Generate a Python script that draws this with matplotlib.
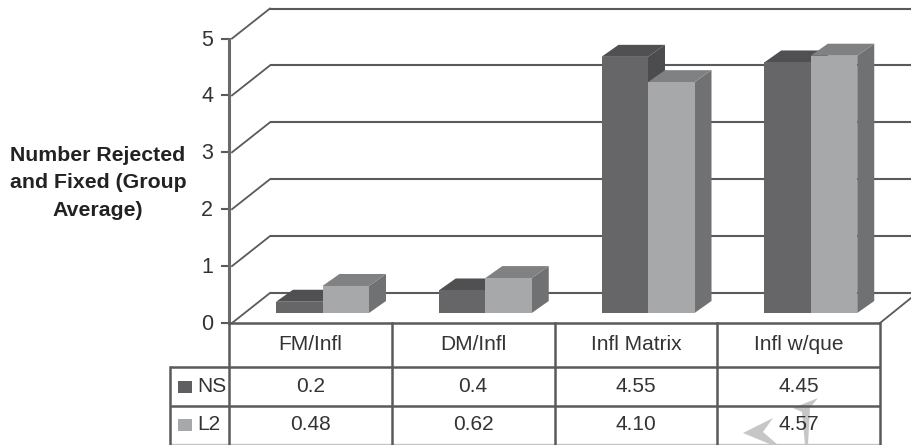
import matplotlib
matplotlib.use('Agg')
import matplotlib.pyplot as plt
from matplotlib.patches import Polygon

categories = ['FM/Infl', 'DM/Infl', 'Infl Matrix', 'Infl w/que']
ns_values = [0.2, 0.4, 4.55, 4.45]
l2_values = [0.48, 0.62, 4.10, 4.57]
ns_labels = ['0.2', '0.4', '4.55', '4.45']
l2_labels = ['0.48', '0.62', '4.10', '4.57']
y_ticks = [0, 1, 2, 3, 4, 5]

W, H = 911, 445
LINE = '#5a5a5c'
TEXT = '#333333'
plt.rcParams['font.family'] = ['Liberation Sans', 'DejaVu Sans']

fig = plt.figure(figsize=(W / 100, H / 100), dpi=100)
ax = fig.add_axes([0, 0, 1, 1])
ax.axis('off')

# x: 1 unit = one category, y: 1 unit = one value step, origin at the front corner
UX, UY = 162.75, 56.9
X0, Y0 = 229, 323
ax.set_xlim(-X0 / UX, (W - X0) / UX)
ax.set_ylim((Y0 - H) / UY, Y0 / UY)

DX, DY = 38 / UX, 30 / UY        # depth of the chart box
BDX, BDY = 17 / UX, 12 / UY      # depth of a bar
BASE = 10 / UY                   # bars stand a little behind the front edge
BW = 46.5 / UX
START = 47 / UX
BAR_SCALE = 56.3 / UY


def hline(x1, x2, y, lw=1.5, color=LINE):
    ax.plot([x1, x2], [y, y], color=color, lw=lw, solid_capstyle='butt', zorder=2)


# back wall, left wall and floor
xmax = (W - X0) / UX
for t in y_ticks:
    hline(DX + 3 / UX, xmax, t + DY)
    ax.plot([3 / UX, DX + 3 / UX], [t, t + DY], color=LINE, lw=1.3, zorder=2)
    ax.plot([-7 / UX, 0], [t, t], color=LINE, lw=1.5, zorder=2)
    ax.text(-16 / UX, t - 1.5 / UY, str(t), ha='right', va='center', fontsize=15.5, color=TEXT)
ax.plot([4, xmax], [0, 25 / UY], color=LINE, lw=1.3, zorder=2)
ax.plot([0, 0], [0, 5], color='#6a6a6c', lw=2.2, zorder=2)


def draw_bar(x, val, front, top, side):
    y1 = BASE + val * BAR_SCALE
    x2 = x + BW
    ax.add_patch(Polygon([(x2, BASE), (x2 + BDX, BASE + BDY), (x2 + BDX, y1 + BDY), (x2, y1)],
                         fc=side, ec='none', zorder=3))
    ax.add_patch(Polygon([(x, y1), (x + BDX, y1 + BDY), (x2 + BDX, y1 + BDY), (x2, y1)],
                         fc=top, ec='none', zorder=3))
    ax.bar(x, val * BAR_SCALE, width=BW, bottom=BASE, align='edge', color=front, zorder=3)


for i in range(len(categories)):
    x = i + START
    draw_bar(x, ns_values[i], '#666668', '#505052', '#4c4c4e')
    draw_bar(x + BW, l2_values[i], '#a7a8aa', '#808183', '#707173')

# data table
row_y = [0, -44 / UY, -83 / UY, -121 / UY]
bottom = -122 / UY
left = -59 / UX
hline(0, 4, row_y[0], lw=1.8)
hline(left, 4, row_y[1], lw=1.8)
hline(left, 4, row_y[2], lw=1.8)
hline(left, 4, row_y[3], lw=1.0, color='#c4c4c4')
ax.plot([left, left], [row_y[1], bottom], color=LINE, lw=1.8, zorder=2)
for c in range(5):
    ax.plot([c, c], [row_y[0], bottom], color=LINE, lw=1.8, zorder=2)

for i, name in enumerate(categories):
    ax.text(i + 0.5, (row_y[0] + row_y[1]) / 2, name, ha='center', va='center', fontsize=15, color=TEXT, zorder=4)
    ax.text(i + 0.5, (row_y[1] + row_y[2]) / 2, ns_labels[i], ha='center', va='center', fontsize=15, color=TEXT, zorder=4)
    ax.text(i + 0.5, (row_y[2] + row_y[3]) / 2, l2_labels[i], ha='center', va='center', fontsize=15, color=TEXT, zorder=4)

# legend keys inside the table
for name, color, r in [('NS', '#5f5f61', 1), ('L2', '#a7a8aa', 2)]:
    mid = (row_y[r] + row_y[r + 1]) / 2
    ax.add_patch(Polygon([(-51 / UX, mid - 6 / UY), (-37 / UX, mid - 6 / UY),
                          (-37 / UX, mid + 6 / UY), (-51 / UX, mid + 6 / UY)],
                         fc=color, ec='none', zorder=3))
    ax.text(-32 / UX, mid, name, ha='left', va='center', fontsize=15, color=TEXT)

ax.text(-131 / UX, (Y0 - 183) / UY, 'Number Rejected\nand Fixed (Group\nAverage)', ha='center', va='center',
        fontsize=15.3, fontweight='bold', color='#222222', linespacing=1.58)

# light watermark strokes over the last table cell
mark_a = [(743, 433), (773, 418), (763, 432), (778, 445), (772, 445)]
mark_b = [(818, 398), (793, 408), (802, 412), (805, 445), (808, 445), (810, 408)]
for mark in (mark_a, mark_b):
    ax.add_patch(Polygon([((px - X0) / UX, (Y0 - py) / UY) for px, py in mark],
                         fc='#c6c6c6', ec='none', zorder=1))

fig.savefig('out.png', dpi=100)
